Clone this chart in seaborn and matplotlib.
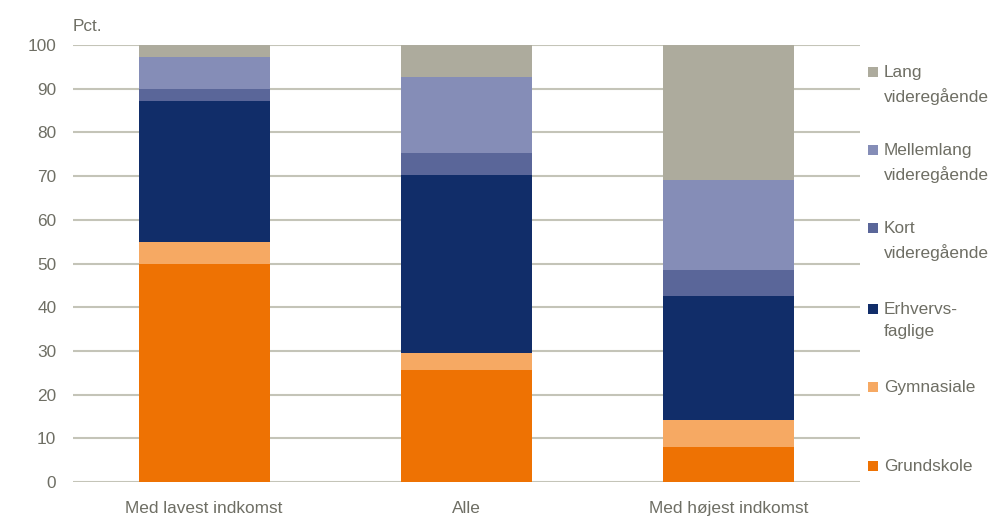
import matplotlib
matplotlib.use("Agg")
import matplotlib.pyplot as plt
from matplotlib.patches import Rectangle
import seaborn as sns
import numpy as np
import pandas as pd

categories = ["Med lavest indkomst", "Alle", "Med højest indkomst"]
series_names = ["Grundskole", "Gymnasiale", "Erhvervsfaglige", "Kort videregående",
                "Mellemlang videregående", "Lang videregående"]
legend_labels = ["Grundskole", "Gymnasiale", "Erhvervs-\nfaglige", "Kort\nvideregående",
                 "Mellemlang\nvideregående", "Lang\nvideregående"]
grundskole = [49.8, 25.6, 7.9]
gymnasiale = [5.2, 4.0, 6.4]
erhvervsfaglige = [32.1, 40.7, 28.3]
kort = [2.8, 4.9, 5.8]
mellemlang = [7.3, 17.5, 20.8]
lang = [2.8, 7.3, 30.8]
colors = ["#EE7203", "#F6A963", "#112D69", "#5A6699", "#858DB7", "#ADAB9D"]
yticks = [0, 10, 20, 30, 40, 50, 60, 70, 80, 90, 100]

values = [grundskole, gymnasiale, erhvervsfaglige, kort, mellemlang, lang]
rows = []
for name, vals in zip(series_names, values):
    for c, v in zip(categories, vals):
        rows.append({"kategori": c, "uddannelse": name, "pct": v})
df = pd.DataFrame(rows)

sns.set_theme(style="white")
plt.rcParams["font.family"] = ["Liberation Sans", "DejaVu Sans"]
txt = "#6E6E64"
grid = "#C4C4B8"
fs = 12.4

fig = plt.figure(figsize=(9.9, 5.25), dpi=100)
ax = fig.add_axes([73 / 990, 1 - 482 / 525, (860 - 73) / 990, (482 - 45) / 525])

bottom = np.zeros(len(categories))
for name, col in zip(series_names, colors):
    sub = df[df["uddannelse"] == name].set_index("kategori").loc[categories]
    sns.barplot(x=categories, y=sub["pct"].values, color=col, saturation=1,
                width=0.5, bottom=bottom, errorbar=None, ax=ax, zorder=3,
                linewidth=0)
    bottom = bottom + sub["pct"].values

ax.set_xlim(-0.5, 2.5)
ax.set_ylim(0, 100)
ax.set_yticks(yticks)
ax.set_yticklabels([str(t) for t in yticks])
ax.set_xlabel("")
ax.set_ylabel("")
for s in ax.spines.values():
    s.set_visible(False)
ax.yaxis.grid(True, color=grid, linewidth=1.5, zorder=0)
ax.set_axisbelow(True)
ax.tick_params(axis="both", length=0, labelsize=fs, colors=txt)
ax.tick_params(axis="x", pad=14)
ax.tick_params(axis="y", pad=12)
ax.text(-0.001, 1.025, "Pct.", transform=ax.transAxes, fontsize=fs, color=txt,
        ha="left", va="bottom")

# legend
ys = [466, 387, 309, 228, 150, 72]
for lab, col, yp in zip(legend_labels, colors, ys):
    fig.add_artist(Rectangle((868 / 990, 1 - (yp + 5) / 525), 10 / 990, 10 / 525,
                             transform=fig.transFigure, color=col, lw=0))
    fig.text(884 / 990, 1 - (yp - 7) / 525, lab, fontsize=fs, color=txt,
             ha="left", va="top", linespacing=1.6)

fig.savefig("out.png", dpi=100)
